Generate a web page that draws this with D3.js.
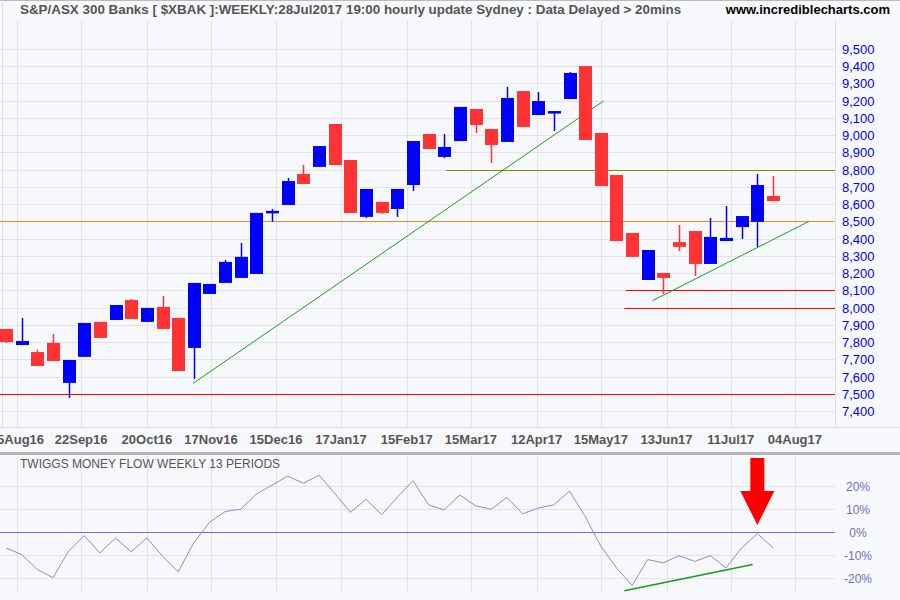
<!DOCTYPE html>
<html><head><meta charset="utf-8">
<script src="https://cdn.jsdelivr.net/npm/d3@7"></script>
<style>body{margin:0;background:#fff}svg{display:block}</style>
</head><body><div id="chart"></div>
<script>
// weekly candles, oldest first
var opens  = [7876,7783,7742,7795,7563,7714,7917,7928,8044,7917,8004,7940,7766,8079,8143,8172,8195,8549,8595,8775,8816,9065,8856,8526,8613,8572,8711,9007,
              8874,8966,9152,9036,8961,9256,9117,9134,9210,9401,9013,8769,8433,8160,8201,8380,8444,8253,8386,8467,8497,8647];
var closes = [7800,7806,7661,7690,7696,7911,7824,8015,7934,7998,7876,7632,8143,8137,8265,8294,8549,8561,8734,8717,8937,8827,8549,8688,8549,8688,8966,8920,
              8932,9164,9059,8943,9216,9048,9198,9140,9361,8972,8705,8386,8294,8334,8172,8352,8253,8410,8404,8531,8711,8618];
var highs  = [7876,7940,7755,7847,7696,7911,7917,8015,8050,7998,8067,7940,8143,8137,8276,8375,8549,8572,8752,8827,8937,9065,8856,8688,8613,8688,8966,9007,
              9007,9164,9152,9036,9280,9256,9251,9140,9367,9401,9013,8769,8433,8334,8201,8479,8444,8520,8589,8531,8775,8763];
var lows   = [7795,7783,7661,7690,7476,7714,7824,7928,7934,7917,7876,7632,7586,8079,8143,8172,8195,8497,8595,8717,8816,8827,8549,8520,8543,8526,8676,8920,
              8868,8966,9013,8839,8961,9048,9117,9024,9210,8972,8705,8386,8294,8160,8079,8328,8183,8253,8386,8398,8352,8618];
// Twiggs Money Flow 13, %
var tmf = [-6.9,-9.8,-16.3,-19.9,-8.3,-1.6,-9.1,-2.6,-8.6,-2.6,-10.5,-17.3,-4.7,4.2,8.9,9.9,16.5,20.4,24.3,21.2,24.7,16.8,8.6,14.2,7.5,15.1,22.3,11.8,
           9.6,16.1,11.4,9.9,15.1,7.9,10.4,11.8,17.8,6.8,-6.2,-15.6,-23.2,-12,-13.4,-10.3,-12.8,-10.3,-15.6,-6.9,-0.7,-6.9];
var dateLabels = ["25Aug16","22Sep16","20Oct16","17Nov16","15Dec16","17Jan17","15Feb17","15Mar17","12Apr17","15May17","13Jun17","11Jul17","04Aug17"];
var dateTickIdx = [0.7,4.8,9,13.1,17.25,21.4,25.6,29.7,33.9,38,42.2,46.3,50.4];
var priceTicks = d3.range(7400, 9501, 100);
var tmfTicks = [20,10,0,-10,-20];
// horizontal levels [value, fromIdx, colour]
var levels = [[7500,-1,"#ff0000"],[8500,-1,"#f08a2a"],[8800,28.1,"#8a8a00"],[8100,39.6,"#ff0000"],[8000,39.5,"#ff0000"]];
// trendlines [[i0,v0],[i1,v1]]
var trends = [[[11.95,7560],[38.2,9200]],[[41.3,8040],[51.3,8500]]];
var tmfTrend = [[39.5,-25.5],[47.7,-14.1]];

var W = 900, H = 600, right = 835;
var svg = d3.select("#chart").append("svg").attr("width", W).attr("height", H)
  .style("font-family", "Arial, 'Liberation Sans', sans-serif");
svg.append("rect").attr("width", W).attr("height", H).attr("fill", "#f7f8fb");

var x = d3.scaleLinear().domain([0, 49]).range([6, 773]);
var y = d3.scaleLinear().domain([7400, 9500]).range([411, 49]);
var y2 = d3.scaleLinear().domain([-20, 20]).range([578, 486]);

var grid = svg.append("g").attr("stroke", "#e3e4ea").attr("stroke-width", 1);
priceTicks.forEach(function(v){
  grid.append("line").attr("x1", 0).attr("x2", right).attr("y1", Math.round(y(v))+0.5).attr("y2", Math.round(y(v))+0.5);
});
tmfTicks.forEach(function(v){
  grid.append("line").attr("x1", 0).attr("x2", right).attr("y1", Math.round(y2(v))+0.5).attr("y2", Math.round(y2(v))+0.5);
});
dateTickIdx.forEach(function(t){
  var xx = Math.round(x(t))+0.5;
  grid.append("line").attr("x1", xx).attr("x2", xx).attr("y1", 20).attr("y2", 427);
  grid.append("line").attr("x1", xx).attr("x2", xx).attr("y1", 456).attr("y2", 593);
});
svg.append("line").attr("x1", right+0.5).attr("x2", right+0.5).attr("y1", 20).attr("y2", 427).attr("stroke", "#dcdde4");
svg.append("line").attr("x1", 0).attr("x2", W).attr("y1", 427.5).attr("y2", 427.5).attr("stroke", "#dcdde4");
svg.append("line").attr("x1", 0).attr("x2", W).attr("y1", 0.5).attr("y2", 0.5).attr("stroke", "#bbb");
svg.append("line").attr("x1", 2.5).attr("x2", 2.5).attr("y1", 0).attr("y2", 427).attr("stroke", "#ddd");
svg.append("rect").attr("x", 0).attr("y", 452).attr("width", W).attr("height", 3).attr("fill", "#b8b8b8");

// levels
levels.forEach(function(l){
  svg.append("line").attr("x1", l[1] < 0 ? 0 : x(l[1])).attr("x2", right)
    .attr("y1", Math.round(y(l[0]))+0.5).attr("y2", Math.round(y(l[0]))+0.5)
    .attr("stroke", l[2]).attr("stroke-width", 1);
});
trends.forEach(function(t){
  svg.append("line").attr("x1", x(t[0][0])).attr("y1", y(t[0][1])).attr("x2", x(t[1][0])).attr("y2", y(t[1][1]))
    .attr("stroke", "#1f9a1f").attr("stroke-width", 1);
});

// candles
var c = svg.append("g");
opens.forEach(function(o, i){
  var cl = closes[i], up = cl >= o, col = up ? "#0000ff" : "#ff3333";
  var cx = Math.round(x(i));
  c.append("line").attr("x1", cx+0.5).attr("x2", cx+0.5).attr("y1", y(highs[i])).attr("y2", y(lows[i]))
    .attr("stroke", col).attr("stroke-width", 1.5);
  var top = y(Math.max(o, cl)), h = Math.max(2.5, y(Math.min(o, cl)) - top);
  c.append("rect").attr("x", cx-6).attr("y", top).attr("width", 13).attr("height", h).attr("fill", col);
});

// price axis
priceTicks.forEach(function(v){
  svg.append("text").attr("x", 842).attr("y", y(v)+5).attr("fill", "#0000ee")
    .attr("font-size", 13).text(d3.format(",")(v));
});
dateLabels.forEach(function(d, i){
  svg.append("text").attr("x", x(dateTickIdx[i])).attr("y", 444).attr("text-anchor", "middle")
    .attr("fill", "#555").attr("font-size", 13).attr("font-weight", "bold").text(d);
});
svg.append("text").attr("x", 20).attr("y", 14).attr("fill", "#555").attr("font-size", 13.4).attr("font-weight", "bold")
  .text("S&P/ASX 300 Banks [ $XBAK ]:WEEKLY:28Jul2017 19:00 hourly update Sydney : Data Delayed > 20mins");
svg.append("text").attr("x", 890).attr("y", 14).attr("text-anchor", "end").attr("fill", "#000").attr("font-size", 13)
  .attr("font-weight", "bold").text("www.incrediblecharts.com");

// TMF panel
svg.append("line").attr("x1", 0).attr("x2", right).attr("y1", Math.round(y2(0))+0.5).attr("y2", Math.round(y2(0))+0.5)
  .attr("stroke", "#7070c8");
svg.append("path").datum(tmf).attr("fill", "none").attr("stroke", "#8c8cd0").attr("stroke-width", 1)
  .attr("d", d3.line().x(function(d, i){ return x(i); }).y(function(d){ return y2(d); }));
svg.append("line").attr("x1", x(tmfTrend[0][0])).attr("y1", y2(tmfTrend[0][1])).attr("x2", x(tmfTrend[1][0])).attr("y2", y2(tmfTrend[1][1]))
  .attr("stroke", "#1f9a1f").attr("stroke-width", 1.5);
tmfTicks.forEach(function(v){
  svg.append("text").attr("x", 858).attr("y", y2(v)+5).attr("text-anchor", "middle").attr("fill", "#7070b8")
    .attr("font-size", 12).text(v + "%");
});
svg.append("text").attr("x", 20).attr("y", 468).attr("fill", "#555").attr("font-size", 12)
  .text("TWIGGS MONEY FLOW WEEKLY 13 PERIODS");

// red arrow pointing at the TMF peak
var ax = x(48);
svg.append("path").attr("fill", "#ff0000")
  .attr("d", d3.line()([[ax-7,458],[ax+7,458],[ax+7,491],[ax+17,491],[ax,525],[ax-17,491],[ax-7,491]]) + "Z");
</script></body></html>
